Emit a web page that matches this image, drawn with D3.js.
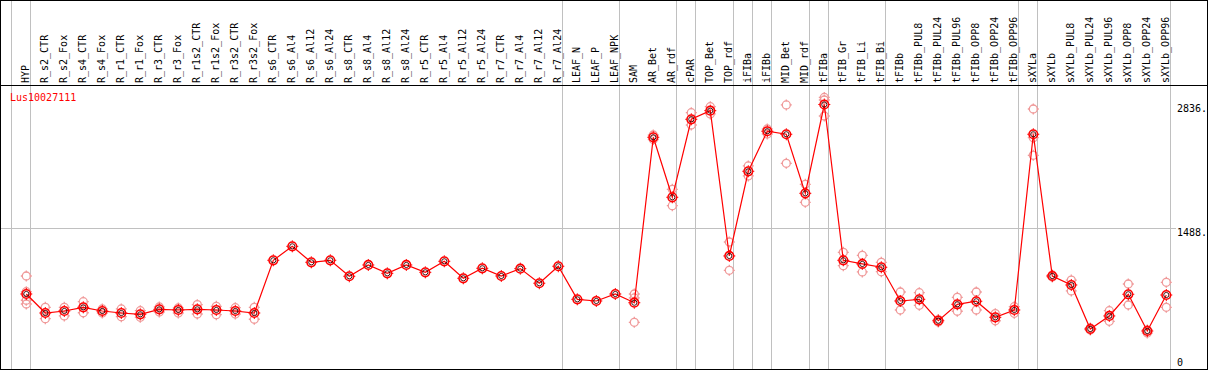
<!DOCTYPE html>
<html>
<head>
<meta charset="utf-8">
<script src="https://cdn.jsdelivr.net/npm/d3@7"></script>
<style>
body{margin:0;background:#fff;}
svg{display:block;}
text{font-family:"DejaVu Sans Mono", monospace;}
</style>
</head>
<body>
<svg id="chart"></svg>
<script>
//gene shown in the plot
const geneName = "Lus10027111";

//sample names (one column each)
const samples = ["HYP","R_s2_CTR","R_s2_Fox","R_s4_CTR","R_s4_Fox","R_r1_CTR","R_r1_Fox","R_r3_CTR","R_r3_Fox",
    "R_r1s2_CTR","R_r1s2_Fox","R_r3s2_CTR","R_r3s2_Fox","R_s6_CTR","R_s6_Al4","R_s6_Al12","R_s6_Al24",
    "R_s8_CTR","R_s8_Al4","R_s8_Al12","R_s8_Al24","R_r5_CTR","R_r5_Al4","R_r5_Al12","R_r5_Al24",
    "R_r7_CTR","R_r7_Al4","R_r7_Al12","R_r7_Al24","LEAF_N","LEAF_P","LEAF_NPK","SAM","AR_Bet","AR_rdf",
    "cPAR","TOP_Bet","TOP_rdf","iFIBa","iFIBb","MID_Bet","MID_rdf","tFIBa","tFIB_Gr","tFIB_Li","tFIB_Bi",
    "tFIBb","tFIBb_PUL8","tFIBb_PUL24","tFIBb_PUL96","tFIBb_OPP8","tFIBb_OPP24","tFIBb_OPP96",
    "sXYLa","sXYLb","sXYLb_PUL8","sXYLb_PUL24","sXYLb_PUL96","sXYLb_OPP8","sXYLb_OPP24","sXYLb_OPP96"];

//mean expression per sample
const means = [773,566,588,628,588,566,552,606,599,606,599,588,566,1140,1292,1118,1140,
    966,1089,998,1089,1009,1129,944,1053,969,1049,890,1075,715,697,773,678,2479,1826,
    2675,2769,1187,2109,2545,2512,1869,2836,1140,1100,1064,
    697,715,482,661,694,519,599,
    2512,969,871,392,534,770,370,762];

//replicate values per sample
const reps = [[969,798,705,664],[628,504],[628,534],[689,569],[610,566],[610,526],[591,519],[632,577],[621,566],
    [657,555],[639,548],[624,555],[628,498],[],[],[],[],
    [],[],[],[],[],[],[],[],
    [],[],[],[],[],[],[],[773,730,465],[2504,2455],[1913,1734],
    [2747,2613],[2812,2733],[1339,1031],[2167,2058],[2570,2515],[2831,2196],[1967,1771],[2913,2885,2711],[1227,1081],[1194,1013],[1118,1016],
    [795,599],[787,650],[495,468],[737,585],[795,599],[559,482],[635,563],
    [2787,2475,2283],[980,958],[925,806],[403,381],[591,476],[882,653],[381,348],[900,628]];

//samples that close a group (separator drawn after them)
const groupEnds = ["HYP","R_r7_Al24","LEAF_NPK","AR_rdf","cPAR","TOP_rdf","iFIBa","iFIBb","MID_rdf",
    "tFIBa","tFIB_Bi","tFIBb_OPP96","sXYLa","sXYLb_OPP96"];

//right axis labels
const axisTicks = [0, 1488, 2836];

const width = 1209, height = 370;
const headerY = 85.5, bottomY = 369.5;

var svg = d3.select('#chart')
    .attr('width', width)
    .attr('height', height);

var x = d3.scaleBand()
    .domain(samples)
    .range([11.3, 1170.3]);

var y = d3.scaleLinear()
    .domain([0, 2836])
    .range([365, 104.5]);

var px = (v)=>Math.round(v) + 0.5;

//grey column separators
var sepX = [x.range()[0]].concat(groupEnds.map((s)=>x(s) + x.bandwidth()));
svg.append('g')
    .selectAll('line')
    .data(sepX)
    .enter()
    .append('line')
    .attr('x1', (d)=>px(d)).attr('x2', (d)=>px(d))
    .attr('y1', 0).attr('y2', bottomY)
    .attr('stroke', '#c0c0c0')
    .attr('shape-rendering', 'crispEdges');

//mid gridline
svg.append('line')
    .attr('x1', 1).attr('x2', 1176)
    .attr('y1', px(y(axisTicks[1]))).attr('y2', px(y(axisTicks[1])))
    .attr('stroke', '#c0c0c0')
    .attr('shape-rendering', 'crispEdges');

//frame and header line
svg.append('rect')
    .attr('x', 0.5).attr('y', 0.5)
    .attr('width', width - 2).attr('height', bottomY - 0.5)
    .attr('fill', 'none')
    .attr('stroke', '#000')
    .attr('shape-rendering', 'crispEdges');
svg.append('line')
    .attr('x1', 0).attr('x2', width - 1)
    .attr('y1', headerY).attr('y2', headerY)
    .attr('stroke', '#000')
    .attr('shape-rendering', 'crispEdges');

//sample labels (vertical)
svg.append('g')
    .selectAll('text')
    .data(samples)
    .enter()
    .append('text')
    .attr('transform', (d)=>`translate(${x(d) + 18},83) rotate(-90)`)
    .attr('font-size', '10px')
    .attr('fill', '#000')
    .text((d)=>d);

//axis labels on the right
svg.append('g')
    .selectAll('text')
    .data(axisTicks)
    .enter()
    .append('text')
    .attr('x', 1177)
    .attr('y', (d)=>Math.min(y(d) + 7.5, y.range()[0] + 0.5))
    .attr('font-size', '10px')
    .attr('fill', '#000')
    .text((d)=>d === 0 ? '0' : d + '.');

//gene name
svg.append('text')
    .attr('x', 10).attr('y', 100.5)
    .attr('font-size', '10px')
    .attr('fill', '#ff0000')
    .text(geneName);

var cx = (s)=>x(s) + 15;

//marker with small nubs
function marker(g, r){
    g.append('circle').attr('r', r).attr('fill', 'none');
    g.append('path')
        .attr('d', `M0,${-r-1.5}V${-r+0.5}M0,${r-0.5}V${r+1.5}M${-r-1.5},0H${-r+0.5}M${r-0.5},0H${r+1.5}`)
        .attr('fill', 'none');
}

//replicates
var repData = [];
samples.forEach((s, i)=>{
    reps[i].forEach((v)=>{ repData.push({s: s, v: v}); });
});
svg.append('g')
    .attr('stroke', '#f09a9a')
    .attr('stroke-width', 1.3)
    .selectAll('g')
    .data(repData)
    .enter()
    .append('g')
    .attr('transform', (d)=>`translate(${cx(d.s)},${y(d.v)})`)
    .each(function(){ marker(d3.select(this), 4); });

//mean line
var line = d3.line()
    .x((d, i)=>cx(samples[i]))
    .y((d)=>y(d));
svg.append('path')
    .datum(means)
    .attr('d', line)
    .attr('fill', 'none')
    .attr('stroke', '#ff0000')
    .attr('stroke-width', 1.2);

//mean markers
var mg = svg.append('g')
    .selectAll('g')
    .data(means)
    .enter()
    .append('g')
    .attr('transform', (d, i)=>`translate(${cx(samples[i])},${y(d)})`);
mg.append('circle')
    .attr('r', 4.3)
    .attr('fill', 'none')
    .attr('stroke', '#ff0000')
    .attr('stroke-width', 1.6);
mg.append('circle')
    .attr('r', 2.6)
    .attr('fill', 'none')
    .attr('stroke', '#330000')
    .attr('stroke-width', 0.9);
mg.append('path')
    .attr('d', 'M0,-6V-4.5M0,4.5V6M-6,0H-4.5M4.5,0H6')
    .attr('stroke', '#ff0000')
    .attr('stroke-width', 1);
</script>
</body>
</html>
